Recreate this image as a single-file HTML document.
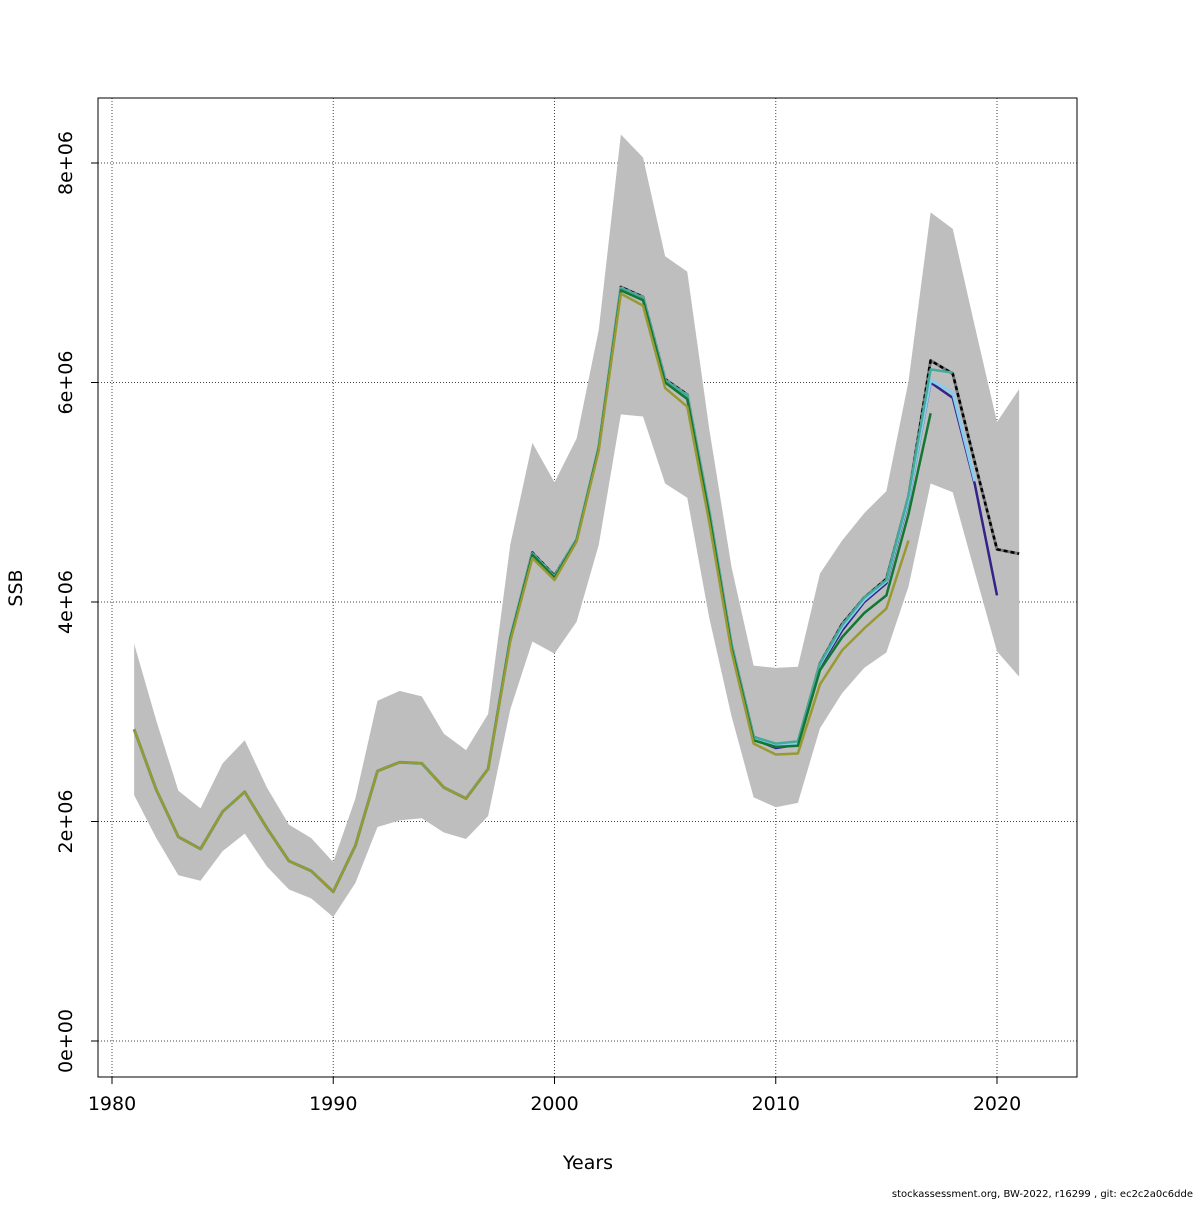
<!DOCTYPE html>
<html><head><meta charset="utf-8">
<style>
body{margin:0;background:#fff;}
svg text{font-family:"DejaVu Sans","Liberation Sans",sans-serif;}
</style></head>
<body>
<svg id="chart" width="1200" height="1200" viewBox="0 0 1200 1200" xmlns="http://www.w3.org/2000/svg">
<rect width="1200" height="1200" fill="#fff"/>
<g id="grid"></g>
<g id="band"></g>
<g id="lines"></g>
<rect x="98" y="98" width="979" height="979" fill="none" stroke="#000" stroke-width="1"/>
<g id="axes"></g>
<text x="588" y="1169" font-size="19" text-anchor="middle">Years</text>
<text transform="translate(22,588) rotate(-90)" font-size="19" text-anchor="middle">SSB</text>
<text x="1193" y="1197" font-size="10" text-anchor="end">stockassessment.org, BW-2022, r16299 , git: ec2c2a0c6dde</text>
</svg>
<script>
const years=[1981,1982,1983,1984,1985,1986,1987,1988,1989,1990,1991,1992,1993,1994,1995,1996,1997,1998,1999,2000,2001,2002,2003,2004,2005,2006,2007,2008,2009,2010,2011,2012,2013,2014,2015,2016,2017,2018,2019,2020,2021];
const ssb=[2.84,2.29,1.86,1.75,2.09,2.27,1.94,1.64,1.55,1.36,1.78,2.46,2.54,2.53,2.31,2.21,2.48,3.67,4.45,4.24,4.57,5.41,6.87,6.78,6.03,5.89,4.82,3.61,2.77,2.70,2.72,3.44,3.80,4.04,4.21,4.96,6.20,6.08,5.27,4.48,4.44];
const upper=[3.62,2.92,2.28,2.12,2.53,2.74,2.31,1.97,1.85,1.63,2.21,3.10,3.19,3.14,2.80,2.65,2.98,4.52,5.45,5.09,5.49,6.48,8.26,8.05,7.15,7.01,5.57,4.32,3.42,3.40,3.41,4.26,4.56,4.81,5.01,6.01,7.55,7.40,6.51,5.64,5.94];
const lower=[2.24,1.85,1.51,1.46,1.73,1.89,1.59,1.38,1.30,1.13,1.44,1.95,2.01,2.03,1.90,1.84,2.05,3.02,3.64,3.53,3.82,4.52,5.71,5.69,5.08,4.95,3.85,2.96,2.22,2.13,2.17,2.85,3.17,3.40,3.54,4.14,5.08,5.00,4.27,3.55,3.32];
const peel1=[2.84,2.29,1.86,1.75,2.09,2.27,1.94,1.64,1.55,1.36,1.78,2.46,2.54,2.53,2.31,2.21,2.48,3.67,4.44,4.23,4.57,5.41,6.86,6.77,6.01,5.87,4.80,3.60,2.75,2.67,2.70,3.41,3.74,4.00,4.17,4.92,6.00,5.86,5.07,4.06];
const peel2=[2.84,2.29,1.86,1.75,2.09,2.27,1.94,1.64,1.55,1.36,1.78,2.46,2.54,2.53,2.31,2.21,2.48,3.67,4.44,4.23,4.57,5.41,6.86,6.77,6.02,5.88,4.81,3.60,2.76,2.69,2.71,3.43,3.77,4.02,4.19,4.94,6.02,5.91,5.10];
const peel3=[2.84,2.29,1.86,1.75,2.09,2.27,1.94,1.64,1.55,1.36,1.78,2.46,2.54,2.53,2.31,2.21,2.48,3.67,4.44,4.23,4.57,5.41,6.86,6.77,6.02,5.88,4.81,3.61,2.77,2.71,2.73,3.44,3.79,4.04,4.20,4.97,6.12,6.09];
const peel4=[2.84,2.29,1.86,1.75,2.09,2.27,1.94,1.64,1.55,1.36,1.78,2.46,2.54,2.53,2.31,2.21,2.48,3.66,4.43,4.22,4.56,5.40,6.84,6.75,6.00,5.85,4.78,3.58,2.74,2.68,2.69,3.38,3.68,3.90,4.06,4.80,5.72];
const peel5=[2.84,2.29,1.86,1.75,2.09,2.27,1.94,1.64,1.55,1.36,1.78,2.46,2.54,2.53,2.31,2.21,2.48,3.64,4.40,4.20,4.55,5.38,6.81,6.70,5.95,5.78,4.72,3.55,2.71,2.61,2.62,3.25,3.56,3.76,3.94,4.56];
const xTicks=[1980,1990,2000,2010,2020];
const yTicks=[0,2,4,6,8];
const yTickLabels=["0e+00","2e+06","4e+06","6e+06","8e+06"];

const NS="http://www.w3.org/2000/svg";
const xs=y=>112+(y-1980)*22.125;
const ys=v=>1041-v*109.75;
function mk(parent,tag,attrs){const e=document.createElementNS(NS,tag);for(const k in attrs)e.setAttribute(k,attrs[k]);document.getElementById(parent).appendChild(e);return e;}

xTicks.forEach(t=>{
  const g=mk('grid','line',{x1:xs(t),x2:xs(t),y1:98,y2:1077,stroke:'#444','stroke-width':1,'stroke-dasharray':'1,2'});
  
  
  const tk=mk('axes','line',{x1:xs(t),x2:xs(t),y1:1077,y2:1084,stroke:'#000'});
  
  
  const tx=mk('axes','text',{x:xs(t),y:1110,'font-size':19,'text-anchor':'middle'});
  tx.textContent=t;
  
  
});
yTicks.forEach((t,i)=>{
  const g=mk('grid','line',{x1:98,x2:1077,y1:ys(t),y2:ys(t),stroke:'#444','stroke-width':1,'stroke-dasharray':'1,2'});
  
  
  const tk=mk('axes','line',{x1:91,x2:98,y1:ys(t),y2:ys(t),stroke:'#000'});
  
  
  const tx=mk('axes','text',{transform:`translate(72,${ys(t)}) rotate(-90)`,'font-size':19,'text-anchor':'middle'});
  tx.textContent=yTickLabels[i];
  
  
});

let pts=years.map((y,i)=>xs(y)+','+ys(upper[i]));
for(let i=years.length-1;i>=0;i--)pts.push(xs(years[i])+','+ys(lower[i]));
const band=mk('band','polygon',{points:pts.join(' '),fill:'#bebebe',stroke:'none'});



function line(arr,color,w,name,dash){
  const p=arr.map((v,i)=>xs(years[i])+','+ys(v)).join(' ');
  const e=mk('lines','polyline',{points:p,fill:'none',stroke:color,'stroke-width':w,'stroke-linejoin':'round'});
  if(dash)e.setAttribute('stroke-dasharray',dash);
  
  
}
line(ssb,'#777',3,'ssb-base-under');
line(ssb,'#000',2.5,'ssb-base','4,3');
line(peel1,'#332288',2.5,'peel-2020');
line(peel2,'#88ccee',3,'peel-2019');
line(peel3,'#44aa99',2.5,'peel-2018');
line(peel4,'#117733',2.5,'peel-2017');
line(peel5,'#999933',2.5,'peel-2016');
</script>
</body></html>
